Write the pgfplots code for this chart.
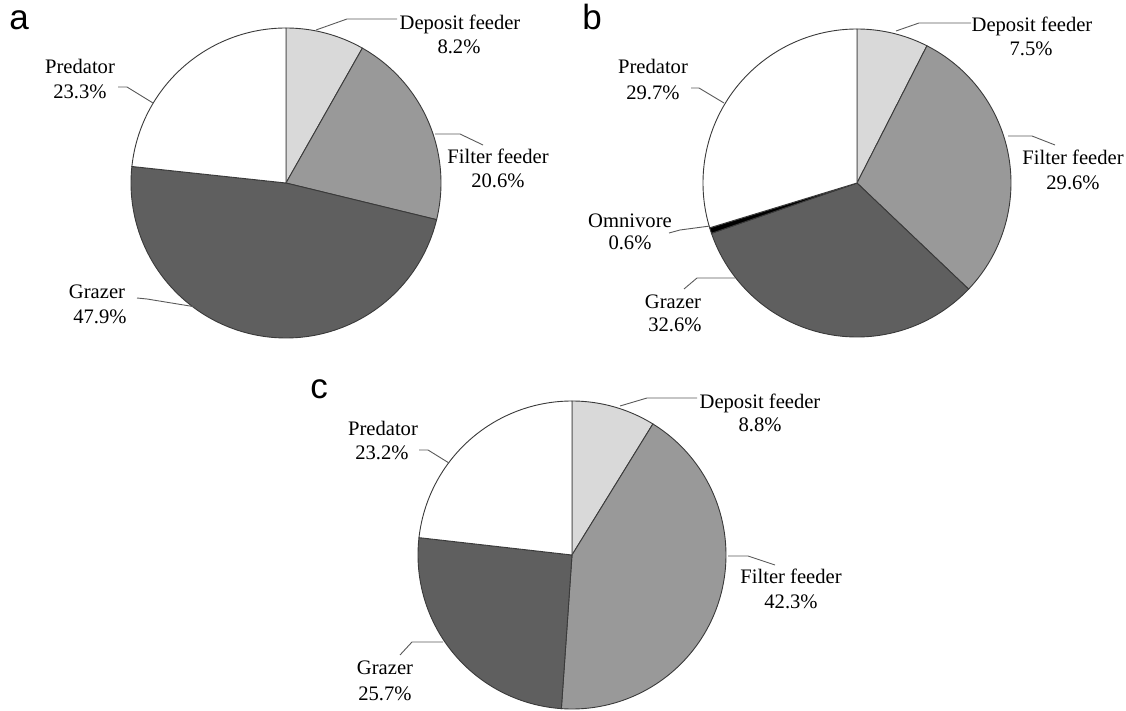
\documentclass[border=0pt]{standalone}
\usepackage{pgfplots}
\usepackage{pgfplotstable}
\pgfplotsset{compat=1.18}
\usepackage{fontspec}
\setmainfont{Liberation Serif}
\newfontfamily\panelfont{Liberation Sans}

\definecolor{depcol}{HTML}{D9D9D9}
\definecolor{filcol}{HTML}{999999}
\definecolor{grzcol}{HTML}{5F5F5F}
\definecolor{omncol}{HTML}{000000}
\definecolor{predcol}{HTML}{FFFFFF}
\definecolor{edgecol}{HTML}{3A3A3A}
\definecolor{leadcol}{HTML}{5A5A5A}

% Feeding-group shares (%), clockwise from 12 o'clock
\pgfplotstableread{
share colour
8.2   depcol
20.6  filcol
47.9  grzcol
23.3  predcol
}\feedA
\pgfplotstableread{
share colour
7.5   depcol
29.6  filcol
32.6  grzcol
0.6   omncol
29.7  predcol
}\feedB
\pgfplotstableread{
share colour
8.8   depcol
42.3  filcol
25.7  grzcol
23.2  predcol
}\feedC

% \drawpie{table}{cx}{cy}{radius}: one filled wedge per row
\newcommand\drawpie[4]{%
  \gdef\piecum{0}%
  \pgfplotstablegetrowsof{#1}%
  \pgfmathtruncatemacro\lastrow{\pgfplotsretval-1}%
  \pgfplotsforeachungrouped \row in {0,...,\lastrow}{%
    \pgfplotstablegetelem{\row}{share}\of#1\let\share\pgfplotsretval
    \pgfplotstablegetelem{\row}{colour}\of#1\let\fillc\pgfplotsretval
    \pgfmathsetmacro\angA{90-3.6*\piecum}%
    \pgfmathsetmacro\piecumnew{\piecum+\share}%
    \global\let\piecum\piecumnew
    \pgfmathsetmacro\angB{90-3.6*\piecum}%
    \edef\doslice{\noexpand\addplot[draw=edgecol, line width=0.45pt,
        fill=\fillc, domain=\angB:\angA, samples=120]
      ({#2+#4*cos(x)}, {#3-#4*sin(x)}) -- (axis cs:#2,#3) -- cycle;}%
    \doslice
  }%
}

% \lbl{x}{y}{text}: label centred at (x,y)
\newcommand\lbl[3]{\node[font=\fontsize{10.3}{12}\selectfont, anchor=base,
  inner sep=0pt] at (axis cs:#1,#2+7) {#3};}
\newcommand\panel[3]{\node[font=\panelfont\fontsize{17.5}{20}\selectfont,
  anchor=base, inner sep=0pt] at (axis cs:#1,#2) {#3};}

\begin{document}
\begin{tikzpicture}
\begin{axis}[
  x=0.5pt, y=0.5pt,
  xmin=0, xmax=1126, ymin=0, ymax=711,
  y dir=reverse,
  hide axis, clip=false,
]
\path (axis cs:0,0) rectangle (axis cs:1126,711);

\drawpie{\feedA}{286}{183}{155}
\drawpie{\feedB}{857}{183}{154}
\drawpie{\feedC}{572}{555}{154}

\begin{scope}[leadcol, line width=0.45pt]
% panel a
\draw (316,30) -- (347,19) -- (397,19);
\draw (435,134) -- (460,134) -- (483,145);
\draw (137,298) -- (147,299) -- (196,307);
\draw (118,87) -- (127,87) -- (153,103);
% panel b
\draw (896,31) -- (919,23) -- (971,23);
\draw (1008,136) -- (1032,136) -- (1055,145);
\draw (684,289) -- (697,278) -- (735,278);
\draw (669,233) -- (680,230) -- (710,226);
\draw (691,88) -- (699,88) -- (724,103);
% panel c
\draw (620,406) -- (647,398) -- (697,398);
\draw (728,556) -- (748,556) -- (775,565);
\draw (400,655) -- (412,642) -- (443,642);
\draw (419,450) -- (428,450) -- (449,463);
\end{scope}

% panel a labels
\lbl{460}{23}{Deposit feeder}\lbl{459}{47}{8.2\%}
\lbl{498}{157}{Filter feeder}\lbl{498}{181}{20.6\%}
\lbl{97}{292}{Grazer}\lbl{100}{317}{47.9\%}
\lbl{80}{67}{Predator}\lbl{80}{92}{23.3\%}
% panel b labels
\lbl{1032}{25}{Deposit feeder}\lbl{1031}{49}{7.5\%}
\lbl{1073}{158}{Filter feeder}\lbl{1073}{183}{29.6\%}
\lbl{673}{302}{Grazer}\lbl{675}{325}{32.6\%}
\lbl{630}{221}{Omnivore}\lbl{630}{243}{0.6\%}
\lbl{653}{67}{Predator}\lbl{653}{93}{29.7\%}
% panel c labels
\lbl{760}{402}{Deposit feeder}\lbl{760}{425}{8.8\%}
\lbl{791}{576}{Filter feeder}\lbl{791}{602}{42.3\%}
\lbl{385}{667}{Grazer}\lbl{385}{693}{25.7\%}
\lbl{383}{429}{Predator}\lbl{382}{453}{23.2\%}

\panel{19}{30}{a}
\panel{592}{30}{b}
\panel{319}{399}{c}
\end{axis}
\end{tikzpicture}
\end{document}
